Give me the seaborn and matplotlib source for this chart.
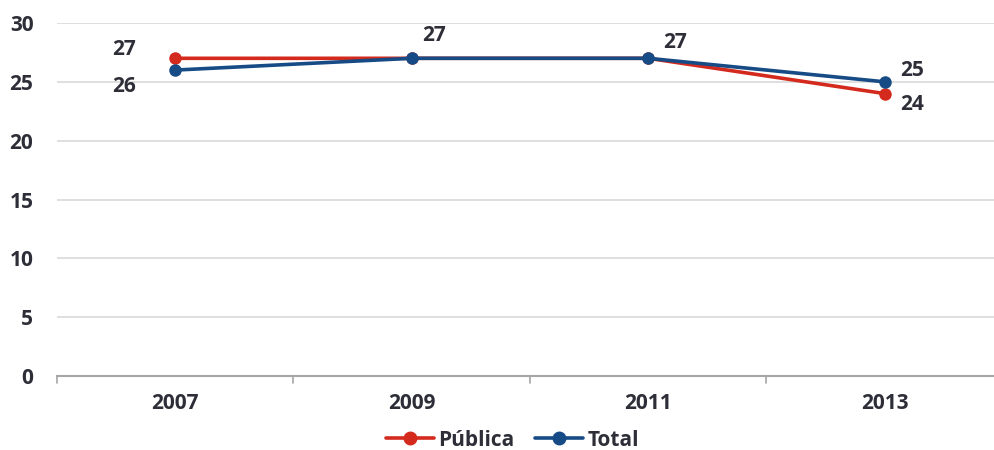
import numpy as np
import pandas as pd
import seaborn as sn
import matplotlib
matplotlib.use('Agg')
import matplotlib.pyplot as plt
from matplotlib.lines import Line2D

# Data
years = ['2007', '2009', '2011', '2013']
publica = [27, 27, 27, 24]
total = [26, 27, 27, 25]
series_names = ['Pública', 'Total']
colors = {'Pública': '#D42A1D', 'Total': '#174B85'}

df = pd.DataFrame({
    'year': years * 2,
    'x': list(range(len(years))) * 2,
    'value': publica + total,
    'serie': [series_names[0]] * len(years) + [series_names[1]] * len(years),
})

sn.set_style('white')
plt.rcParams['font.family'] = ['Open Sans', 'DejaVu Sans']
plt.rcParams['font.weight'] = 'bold'
txt_color = '#2E2E38'
fs = 15

fig = plt.figure(figsize=(9.95, 4.5), dpi=100)
ax = fig.add_axes([57 / 995, 1 - 376 / 450, 946 / 995, 353 / 450])

sn.lineplot(data=df, x='x', y='value', hue='serie', palette=colors,
            marker='o', markersize=9, markeredgewidth=0, linewidth=2.6,
            ax=ax, legend=False)

ax.set_xlim(-0.5, 3.5)
ax.set_ylim(0, 30)
ax.set_yticks(range(0, 31, 5))
ax.set_xticks(range(len(years)))
ax.set_xticklabels(years)
ax.set_xlabel('')
ax.set_ylabel('')
ax.grid(axis='y', color='#D9D9D9', linewidth=1.2)
ax.set_axisbelow(True)
for s in ['top', 'right', 'left']:
    ax.spines[s].set_visible(False)
ax.spines['bottom'].set_color('#A6A6A6')
ax.spines['bottom'].set_linewidth(1.5)
ax.tick_params(axis='x', length=0, pad=12, labelsize=fs, labelcolor=txt_color)
ax.tick_params(axis='y', length=0, pad=17, labelsize=fs, labelcolor=txt_color)
for lab in ax.get_xticklabels() + ax.get_yticklabels():
    lab.set_fontweight('bold')

# small ticks between categories on the axis
for b in np.arange(-0.5, 3.6, 1):
    ax.plot([b, b], [0, -0.6], color='#A6A6A6', linewidth=1.2, clip_on=False)

# value labels
offsets_pub = [(-37, 6), None, None, (19.5, -7.5)]
offsets_tot = [(-37, -11.5), (16, 16.5), (19.5, 11.5), (19.5, 8)]
for i, v in enumerate(publica):
    if offsets_pub[i] is not None:
        ax.annotate(str(v), (i, v), xytext=offsets_pub[i], textcoords='offset points',
                    ha='center', va='center', fontsize=fs, fontweight='bold', color=txt_color)
for i, v in enumerate(total):
    ax.annotate(str(v), (i, v), xytext=offsets_tot[i], textcoords='offset points',
                ha='center', va='center', fontsize=fs, fontweight='bold', color=txt_color)

handles = [Line2D([0], [0], color=colors[n], marker='o', markersize=9, linewidth=2.6) for n in series_names]
leg = fig.legend(handles, series_names, loc='center', bbox_to_anchor=(0.515, 1 - 440 / 450),
                 ncol=2, frameon=False, handlelength=2.3, handletextpad=0.2, columnspacing=1.0,
                 prop={'size': fs, 'weight': 'bold'})
for t in leg.get_texts():
    t.set_color(txt_color)

fig.savefig('out.png', dpi=100)
